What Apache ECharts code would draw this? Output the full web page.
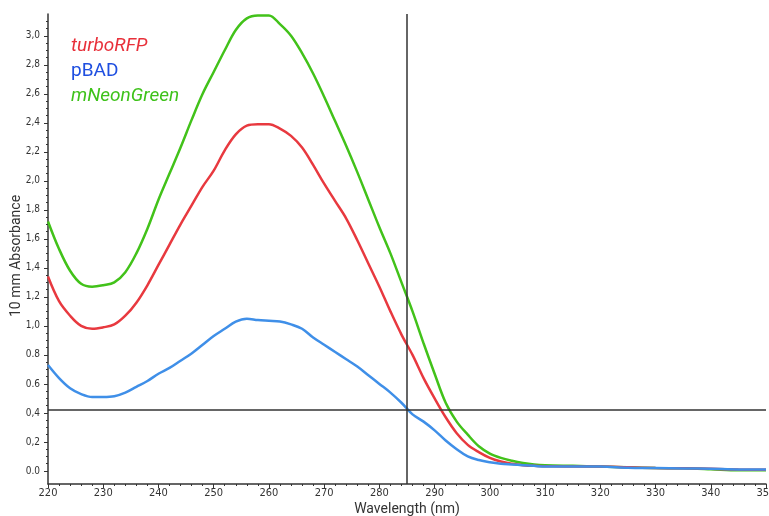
<!DOCTYPE html>
<html>
<head>
<meta charset="utf-8">
<script src="https://cdn.jsdelivr.net/npm/echarts@6/dist/echarts.min.js"></script>
<style>html,body{margin:0;padding:0;background:#fff}#c{width:769px;height:516px}</style>
</head>
<body>
<div id="c"></div>
<script>
const wavelengths = [220,222,224,226,228,230,232,234,236,238,240,242,244,246,248,250,252,254,256,258,260,262,264,266,268,270,272,274,276,278,280,282,284,286,288,290,292,294,296,298,300,302,304,306,308,310,315,320,325,330,335,340,345,350];
const turboRFP = [1.34,1.17,1.07,1.00,0.98,0.99,1.01,1.07,1.16,1.28,1.42,1.56,1.70,1.83,1.96,2.07,2.21,2.32,2.38,2.39,2.39,2.36,2.31,2.23,2.11,1.98,1.86,1.74,1.59,1.43,1.27,1.10,0.94,0.80,0.64,0.50,0.37,0.26,0.18,0.13,0.09,0.065,0.05,0.04,0.035,0.033,0.03,0.03,0.025,0.02,0.018,0.015,0.01,0.008];
const pBAD = [0.73,0.64,0.57,0.53,0.51,0.51,0.515,0.54,0.58,0.62,0.67,0.71,0.76,0.81,0.87,0.93,0.98,1.03,1.05,1.04,1.035,1.03,1.01,0.98,0.92,0.87,0.82,0.77,0.72,0.66,0.60,0.54,0.47,0.39,0.34,0.28,0.21,0.15,0.10,0.075,0.06,0.05,0.045,0.04,0.035,0.03,0.03,0.03,0.022,0.02,0.017,0.015,0.01,0.01];
const mNeonGreen = [1.72,1.53,1.38,1.29,1.27,1.28,1.30,1.37,1.50,1.67,1.87,2.05,2.23,2.42,2.60,2.75,2.90,3.04,3.12,3.14,3.14,3.08,3.00,2.88,2.74,2.58,2.41,2.24,2.06,1.87,1.68,1.50,1.30,1.10,0.88,0.67,0.47,0.34,0.25,0.17,0.12,0.09,0.07,0.055,0.045,0.04,0.035,0.03,0.025,0.02,0.018,0.012,0.005,0.005];
const seriesNames = ['turboRFP','pBAD','mNeonGreen'];
const yTickValues = [0,0.2,0.4,0.6,0.8,1.0,1.2,1.4,1.6,1.8,2.0,2.2,2.4,2.6,2.8,3.0];
const yTickLabels = ['0.0','0,2','0,4','0.6','0.8','1,0','1,2','1,4','1,6','1,8','2,0','2,2','2,4','2,6','2,8','3,0'];
const yMinorValues = [];
for (let i = 0; i <= 62; i++) yMinorValues.push(Math.round(i * 5) / 100);
const crossX = 285;
const crossY = 0.42;

const colors = ['#e8393f', '#3f8fe8', '#42c21a'];
const legendColors = ['#e8303a', '#1f4fe0', '#3ec21a'];

const toPairs = arr => wavelengths.map((w, i) => [w, arr[i]]);
const chart = echarts.init(document.getElementById('c'));
const axisFont = { color: '#333', fontSize: 10, fontFamily: 'DejaVu Sans Condensed, DejaVu Sans, sans-serif' };
chart.setOption({
  backgroundColor: '#fff',
  animation: false,
  grid: { left: 48, right: 3, top: 14, bottom: 32, outerBoundsMode: 'none', containLabel: false },
  legend: {
    orient: 'vertical', left: 66, top: 37, itemWidth: 0, itemHeight: 0, itemGap: 6,
    icon: 'none', selectedMode: false, padding: 0,
    data: [
      { name: 'turboRFP', textStyle: { color: legendColors[0], fontStyle: 'italic', fontSize: 19, fontFamily: 'Roboto' } },
      { name: 'pBAD', textStyle: { color: legendColors[1], fontSize: 19, fontFamily: 'Roboto' } },
      { name: 'mNeonGreen', textStyle: { color: legendColors[2], fontStyle: 'italic', fontSize: 19, fontFamily: 'Roboto' } }
    ]
  },
  xAxis: {
    type: 'value', min: 220, max: 350, interval: 10,
    name: 'Wavelength (nm)', nameLocation: 'middle', nameGap: 18, nameMoveOverlap: false,
    nameTextStyle: { color: '#333', fontSize: 14, fontFamily: 'Roboto' },
    axisLine: { show: true, onZero: false, lineStyle: { color: '#333', width: 1.5 } },
    axisTick: { show: true, length: 4, lineStyle: { color: '#333' } },
    minorTick: { show: true, splitNumber: 5, length: 2, lineStyle: { color: '#333' } },
    axisLabel: Object.assign({ margin: 4 }, axisFont, { fontSize: 11 }),
    splitLine: { show: false }
  },
  yAxis: [{
    type: 'value', min: -0.09, max: 3.15,
    name: '10 mm Absorbance', nameLocation: 'middle', nameGap: 25, nameMoveOverlap: false,
    nameTextStyle: { color: '#333', fontSize: 14, fontFamily: 'Roboto', padding: [0, 14, 0, 0] },
    axisLine: { show: true, onZero: false, lineStyle: { color: '#333', width: 1.5 } },
    axisTick: { show: true, length: 4, customValues: yTickValues, lineStyle: { color: '#333' } },
    axisLabel: Object.assign({ margin: 8, customValues: yTickValues,
      formatter: v => { const i = yTickValues.findIndex(t => Math.abs(t - v) < 1e-6); return i >= 0 ? yTickLabels[i] : ''; } }, axisFont),
    splitLine: { show: false }
  }, {
    type: 'value', min: -0.09, max: 3.15, position: 'left', offset: 0,
    axisLine: { show: false, onZero: false },
    axisTick: { show: true, length: 2, customValues: yMinorValues, lineStyle: { color: '#333' } },
    axisLabel: { show: false },
    splitLine: { show: false }
  }],
  series: [
    { name: seriesNames[0], type: 'line', data: toPairs(turboRFP), smooth: 0.35, showSymbol: false,
      lineStyle: { color: colors[0], width: 2.5 }, itemStyle: { color: colors[0] }, z: 3 },
    { name: seriesNames[1], type: 'line', data: toPairs(pBAD), smooth: 0.35, showSymbol: false,
      lineStyle: { color: colors[1], width: 2.5 }, itemStyle: { color: colors[1] }, z: 4,
      markLine: { symbol: 'none', silent: true, label: { show: false },
        lineStyle: { color: '#333', width: 1.5, type: 'solid' },
        data: [{ xAxis: crossX }, { yAxis: crossY }] } },
    { name: seriesNames[2], type: 'line', data: toPairs(mNeonGreen), smooth: 0.35, showSymbol: false,
      lineStyle: { color: colors[2], width: 2.5 }, itemStyle: { color: colors[2] }, z: 2 }
  ]
});
</script>
</body>
</html>
